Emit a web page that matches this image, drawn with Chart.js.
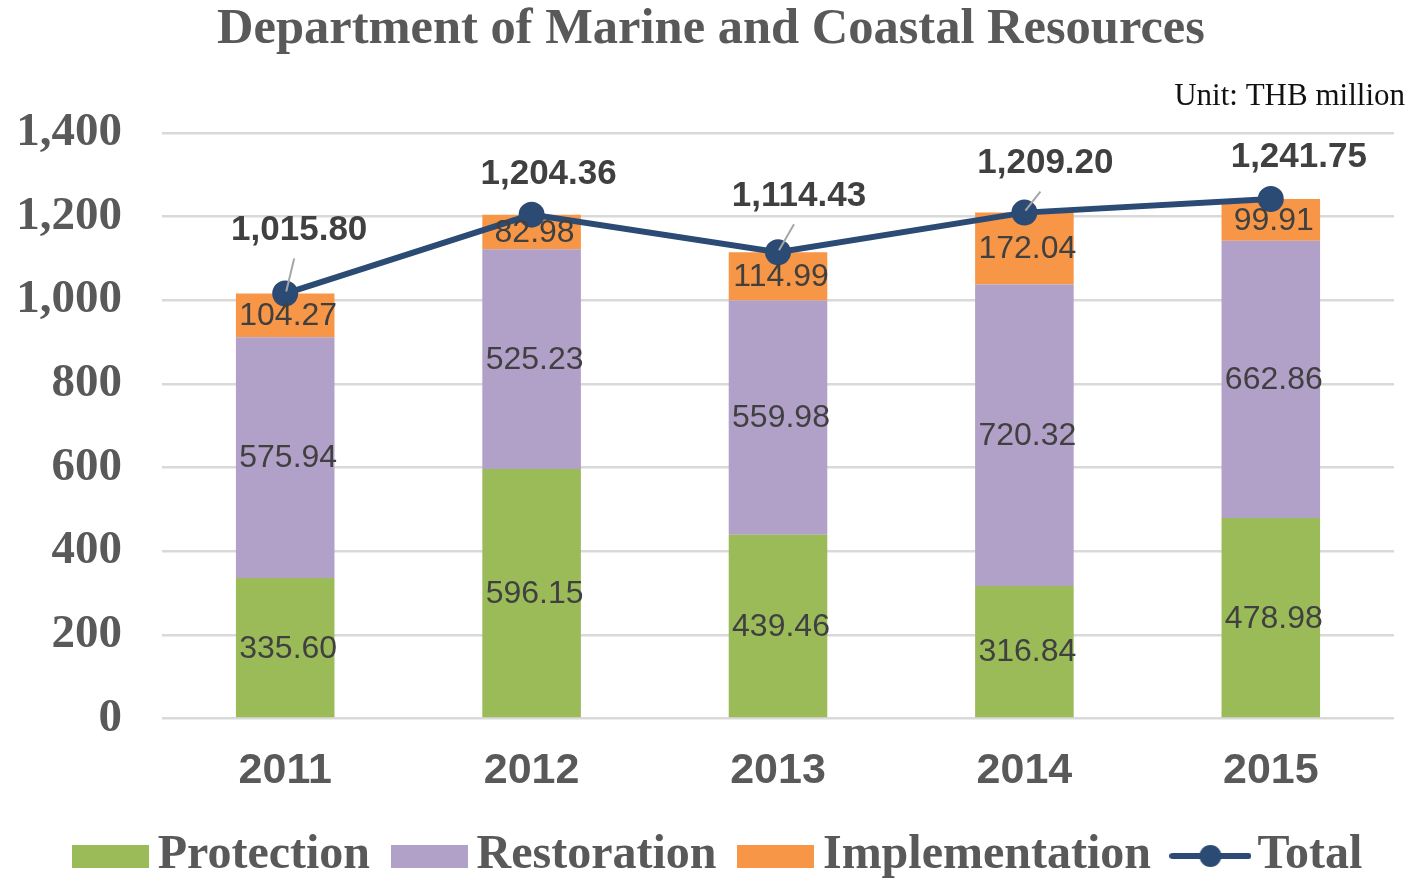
<!DOCTYPE html>
<html>
<head>
<meta charset="utf-8">
<script src="https://cdn.jsdelivr.net/npm/chart.js@4/dist/chart.umd.min.js"></script>
<style>
  html, body { margin: 0; padding: 0; background: #ffffff; }
  #wrap { width: 1410px; height: 878px; position: relative; }
</style>
</head>
<body>
<div id="wrap"><canvas id="c"></canvas></div>
<script>
// ---- data ----
const years = ['2011', '2012', '2013', '2014', '2015'];
const protection = [335.60, 596.15, 439.46, 316.84, 478.98];
const restoration = [575.94, 525.23, 559.98, 720.32, 662.86];
const implementation = [104.27, 82.98, 114.99, 172.04, 99.91];
const total = [1015.80, 1204.36, 1114.43, 1209.20, 1241.75];
const yTicks = [0, 200, 400, 600, 800, 1000, 1200, 1400];

// ---- styles ----
const COLORS = { protection: '#9BBB59', restoration: '#B1A0C7', implementation: '#F79646', total: '#2B4B75' };
const SERIF = "'Liberation Serif', 'DejaVu Serif', serif";
const SANS = "'Liberation Sans', Arial, sans-serif";
const totalLabelStyle = { dy: [63, 40, 56, 49, 42], dx: [14, 17, 21, 21, 28], leader: [true, false, true, true, false] };

function boxIcon(color) {
  const c = document.createElement('canvas');
  c.width = 77; c.height = 23;
  const g = c.getContext('2d');
  g.fillStyle = color; g.fillRect(0, 0, 77, 23);
  return c;
}
function lineIcon(color) {
  const c = document.createElement('canvas');
  c.width = 82; c.height = 24;
  const g = c.getContext('2d');
  g.strokeStyle = color; g.lineWidth = 6; g.lineCap = 'round';
  g.beginPath(); g.moveTo(3, 12); g.lineTo(79, 12); g.stroke();
  g.fillStyle = color; g.beginPath(); g.arc(41, 12, 11, 0, Math.PI * 2); g.fill();
  return c;
}
const legendIcons = [boxIcon(COLORS.protection), boxIcon(COLORS.restoration), boxIcon(COLORS.implementation), lineIcon(COLORS.total)];

const fmt2 = v => v.toLocaleString('en-US', { minimumFractionDigits: 2, maximumFractionDigits: 2 });

const labelPlugin = {
  id: 'valueLabels',
  afterLayout(chart) {
    // fine horizontal placement of title / unit note / legend
    chart.titleBlock.left += 24;
    chart.boxes.forEach(b => {
      if (b !== chart.titleBlock && b.options && b.options.text === 'Unit: THB million') b.right += 7;
    });
    chart.legend.left += 26;
    chart.legend.right += 26;
  },
  afterDatasetsDraw(chart) {
    const ctx = chart.ctx;
    ctx.save();
    // segment labels
    ctx.font = '32px ' + SANS;
    ctx.fillStyle = '#404040';
    ctx.textAlign = 'center';
    ctx.textBaseline = 'middle';
    chart.data.datasets.forEach((ds, di) => {
      if (ds.type !== 'bar') return;
      const meta = chart.getDatasetMeta(di);
      meta.data.forEach((el, i) => {
        const y = (el.y + el.base) / 2;
        ctx.fillText(fmt2(ds.data[i]), el.x + 3, y + 1);
      });
    });
    // total labels
    const li = chart.data.datasets.findIndex(d => d.type === 'line');
    const lmeta = chart.getDatasetMeta(li);
    ctx.font = 'bold 35px ' + SANS;
    lmeta.data.forEach((pt, i) => {
      const lx = pt.x + totalLabelStyle.dx[i];
      const ly = pt.y - totalLabelStyle.dy[i];
      if (totalLabelStyle.leader[i]) {
        ctx.strokeStyle = '#A6A6A6';
        ctx.lineWidth = 2;
        ctx.beginPath();
        ctx.moveTo(pt.x + 1, pt.y - 2);
        ctx.lineTo(lx - 5, ly + 28);
        ctx.stroke();
      }
      ctx.fillStyle = '#404040';
      ctx.fillText(fmt2(chart.data.datasets[li].data[i]), lx, ly);
    });
    ctx.restore();
  }
};

new Chart(document.getElementById('c'), {
  data: {
    labels: years,
    datasets: [
      { type: 'bar', label: 'Protection', data: protection, backgroundColor: COLORS.protection, order: 2, stack: 's' },
      { type: 'bar', label: 'Restoration', data: restoration, backgroundColor: COLORS.restoration, order: 2, stack: 's' },
      { type: 'bar', label: 'Implementation', data: implementation, backgroundColor: COLORS.implementation, order: 2, stack: 's' },
      { type: 'line', label: 'Total', data: total, borderColor: COLORS.total, backgroundColor: COLORS.total,
        borderWidth: 6, pointRadius: 10, pointHoverRadius: 10, pointBackgroundColor: COLORS.total,
        pointBorderColor: COLORS.total, tension: 0, order: 0, stack: 'total' }
    ]
  },
  options: {
    responsive: true,
    maintainAspectRatio: false,
    animation: false,
    devicePixelRatio: 1,
    layout: { padding: { left: 0, right: 12, top: 0, bottom: -12 } },
    datasets: { bar: { categoryPercentage: 0.8, barPercentage: 0.5 } },
    scales: {
      x: {
        stacked: true,
        grid: { display: false, drawTicks: false },
        border: { display: false },
        afterFit: s => { s.height = 77; },
        ticks: { color: '#595959', font: { family: SANS, size: 43, weight: 'bold' }, padding: 27 }
      },
      y: {
        stacked: true,
        min: 0, max: 1400,
        afterBuildTicks: s => { s.ticks = yTicks.map(v => ({ value: v })); },
        afterFit: s => { s.width = 162; },
        grid: { color: '#D9D9D9', lineWidth: 2.5, drawTicks: false },
        border: { display: false },
        ticks: { color: '#595959', font: { family: SERIF, size: 47, weight: 'bold' }, padding: 40,
                 callback: v => v.toLocaleString('en-US') }
      }
    },
    plugins: {
      title: {
        display: true, text: 'Department of Marine and Coastal Resources',
        color: '#595959', font: { family: SERIF, size: 50.5, weight: 'bold' },
        padding: { top: 0, bottom: 18 }
      },
      subtitle: {
        display: true, text: 'Unit: THB million', align: 'end',
        color: '#111111', font: { family: SERIF, size: 31, weight: 'normal' },
        padding: { top: 0, bottom: 17 }
      },
      legend: {
        position: 'bottom',
        labels: {
          color: '#595959',
          font: { family: SERIF, size: 48, weight: 'bold' },
          usePointStyle: true,
          pointStyleWidth: 46,
          padding: 36.5,
          sort: (a, b) => a.datasetIndex - b.datasetIndex,
          generateLabels(chart) {
            const items = Chart.defaults.plugins.legend.labels.generateLabels(chart);
            items.forEach(it => { it.pointStyle = legendIcons[it.datasetIndex]; });
            return items;
          }
        }
      },
      tooltip: { enabled: false }
    }
  },
  plugins: [labelPlugin]
});
</script>
</body>
</html>
